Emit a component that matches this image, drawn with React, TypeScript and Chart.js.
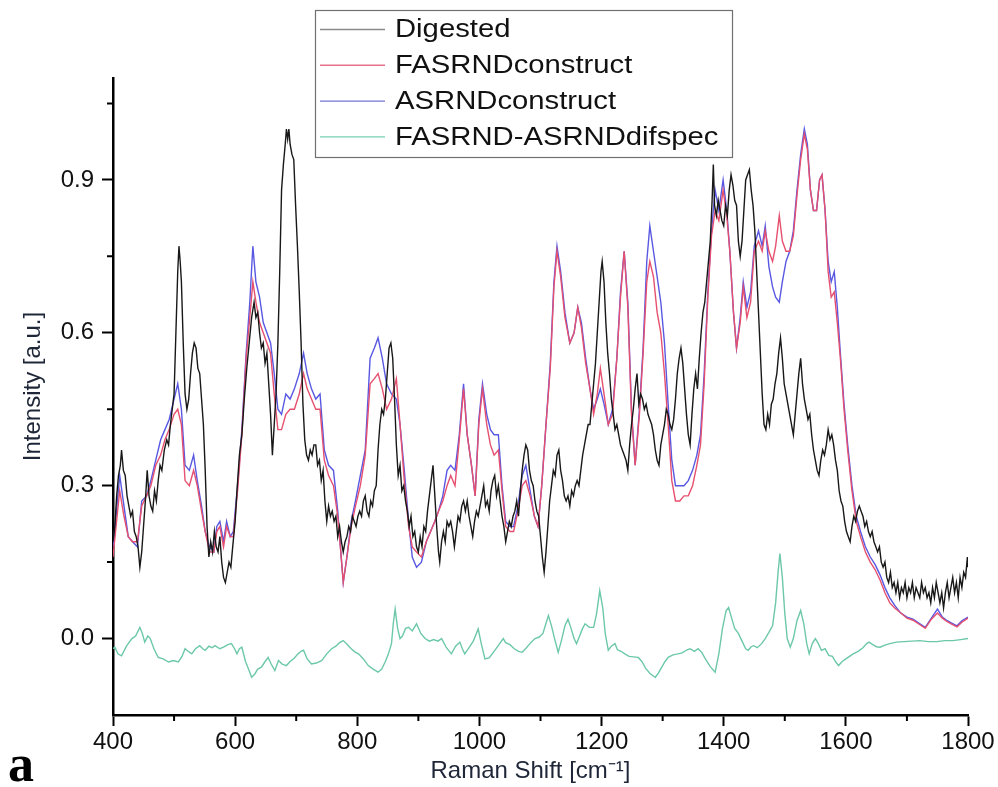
import { useEffect, useRef } from "react";
import { Chart, registerables } from "chart.js";

Chart.register(...registerables);

// ---------- data ----------
const seriesLabels = ["Digested", "FASRNDconstruct", "ASRNDconstruct", "FASRND-ASRNDdifspec"];

const xMajorTicks = [400, 600, 800, 1000, 1200, 1400, 1600, 1800];
const xMinorTicks = [500, 700, 900, 1100, 1300, 1500, 1700];
const yMajorTicks = [0, 0.3, 0.6, 0.9];
const yMinorTicks = [0.15, 0.45, 0.75, 1.05];

const digestedX = [
  400, 403, 406, 409, 412, 414, 417, 420, 423, 426, 429, 432, 435, 438, 441, 444, 447, 450, 453, 456,
  459, 462, 465, 468, 471, 474, 477, 480, 484, 488, 491, 494, 497, 500, 503, 506, 508, 510, 512, 515,
  518, 521, 524, 527, 530, 533, 536, 539, 542, 545, 548, 551, 554, 557, 560, 563, 566, 569, 572, 575,
  578, 581, 584, 587, 590, 593, 596, 600, 603, 607, 611, 615, 619, 623, 627, 631, 634, 637, 640, 643,
  646, 649, 652, 655, 658, 661, 664, 667, 670, 673, 676, 679, 682, 684, 686, 688, 690, 693, 696, 699,
  702, 705, 708, 711, 714, 717, 720, 723, 726, 729, 732, 735, 738, 741, 744, 747, 750, 753, 756, 759,
  762, 765, 768, 771, 774, 777, 780, 783, 786, 789, 792, 795, 798, 801, 804, 807, 810, 813, 816, 819,
  822, 825, 828, 831, 834, 837, 840, 843, 846, 849, 852, 855, 858, 861, 864, 867, 870, 873, 876, 879,
  882, 885, 888, 891, 894, 897, 900, 903, 906, 909, 912, 915, 918, 921, 924, 927, 930, 933, 935, 938,
  941, 944, 947, 950, 953, 956, 959, 962, 965, 968, 971, 974, 977, 980, 983, 986, 989, 992, 995, 998,
  1001, 1004, 1007, 1010, 1013, 1016, 1019, 1022, 1025, 1028, 1031, 1034, 1037, 1040, 1043, 1046, 1049, 1052, 1055, 1058,
  1061, 1064, 1067, 1070, 1073, 1076, 1079, 1082, 1085, 1088, 1091, 1094, 1097, 1100, 1103, 1106, 1109, 1112, 1115, 1118,
  1121, 1124, 1127, 1130, 1133, 1136, 1139, 1142, 1145, 1148, 1151, 1154, 1157, 1160, 1163, 1166, 1169, 1172, 1175, 1178,
  1181, 1184, 1187, 1190, 1193, 1196, 1199, 1201, 1204, 1207, 1210, 1213, 1216, 1219, 1222, 1225, 1228, 1231, 1234, 1237,
  1240, 1243, 1246, 1249, 1252, 1255, 1258, 1261, 1264, 1267, 1270, 1273, 1276, 1279, 1282, 1285, 1288, 1291, 1294, 1297,
  1300, 1303, 1306, 1309, 1312, 1315, 1318, 1321, 1324, 1327, 1330, 1333, 1336, 1339, 1342, 1345, 1348, 1351, 1354, 1357,
  1360, 1363, 1366, 1369, 1372, 1375, 1378, 1381, 1383, 1385, 1388, 1391, 1394, 1397, 1400, 1403, 1406, 1409, 1412, 1415,
  1418, 1421, 1424, 1427, 1430, 1433, 1436, 1439, 1442, 1445, 1448, 1451, 1454, 1457, 1460, 1463, 1466, 1469, 1472, 1475,
  1478, 1481, 1484, 1487, 1490, 1493, 1496, 1499, 1502, 1505, 1508, 1511, 1514, 1517, 1520, 1523, 1526, 1529, 1532, 1535,
  1538, 1541, 1544, 1547, 1550, 1553, 1556, 1559, 1562, 1565, 1568, 1571, 1574, 1577, 1580, 1583, 1586, 1589, 1592, 1595,
  1598, 1601, 1604, 1607, 1610, 1613, 1616, 1619, 1622, 1625, 1628, 1631, 1634, 1637, 1640, 1643, 1646, 1649, 1652, 1655,
  1658, 1661, 1664, 1667, 1670, 1673, 1676, 1679, 1682, 1685, 1688, 1691, 1694, 1697, 1700, 1703, 1706, 1709, 1712, 1715,
  1718, 1721, 1724, 1727, 1730, 1733, 1736, 1739, 1742, 1745, 1748, 1751, 1754, 1757, 1760, 1763, 1766, 1769, 1772, 1775,
  1778, 1781, 1784, 1787, 1790, 1793, 1796, 1799, 1800,
];
const digestedY = [
  0.19, 0.22, 0.28, 0.32, 0.34, 0.37, 0.33, 0.32, 0.28, 0.26, 0.24, 0.25, 0.21, 0.2, 0.18, 0.14, 0.17, 0.22, 0.27, 0.33,
  0.28, 0.26, 0.25, 0.29, 0.27, 0.31, 0.34, 0.33, 0.37, 0.39, 0.38, 0.42, 0.45, 0.48, 0.6, 0.72, 0.77, 0.74, 0.7, 0.58,
  0.48, 0.45, 0.47, 0.52, 0.56, 0.58, 0.57, 0.53, 0.52, 0.47, 0.42, 0.33, 0.22, 0.16, 0.19, 0.17, 0.21, 0.18, 0.17, 0.2,
  0.15, 0.12, 0.11, 0.13, 0.15, 0.14, 0.18, 0.23, 0.29, 0.36, 0.4, 0.47, 0.53, 0.58, 0.63, 0.66, 0.63, 0.64, 0.6, 0.57,
  0.58, 0.54, 0.56, 0.5, 0.44, 0.36, 0.42, 0.48, 0.58, 0.72, 0.88, 0.93, 0.97, 1.0, 0.98, 1.0, 0.97, 0.95, 0.94, 0.85,
  0.77, 0.68, 0.58, 0.46, 0.39, 0.36, 0.35, 0.37, 0.36, 0.38, 0.38, 0.34, 0.35, 0.31, 0.33, 0.27, 0.23, 0.26, 0.24, 0.25,
  0.23, 0.24, 0.2, 0.22, 0.19, 0.17, 0.19, 0.2, 0.22, 0.21, 0.24, 0.23, 0.22, 0.24, 0.25, 0.24, 0.27, 0.28, 0.25, 0.24,
  0.27, 0.26, 0.29, 0.3, 0.37, 0.42, 0.45, 0.44, 0.47, 0.52, 0.57, 0.58, 0.55, 0.47, 0.38, 0.32, 0.34, 0.29, 0.3, 0.27,
  0.25, 0.22, 0.24, 0.2, 0.21, 0.18, 0.17, 0.2, 0.18, 0.22, 0.21, 0.25, 0.28, 0.31, 0.34, 0.28, 0.22, 0.17, 0.15, 0.19,
  0.21, 0.19, 0.23, 0.22, 0.23, 0.21, 0.18, 0.21, 0.24, 0.23, 0.26, 0.27, 0.25, 0.27, 0.24, 0.22, 0.2, 0.23, 0.25, 0.24,
  0.26, 0.28, 0.3, 0.26, 0.27, 0.25, 0.29, 0.31, 0.32, 0.28, 0.3, 0.27, 0.24, 0.22, 0.19, 0.21, 0.23, 0.22, 0.24, 0.25,
  0.27, 0.24, 0.29, 0.33, 0.36, 0.38, 0.37, 0.33, 0.31, 0.3, 0.27, 0.25, 0.24, 0.2, 0.16, 0.13, 0.17, 0.22, 0.27, 0.3,
  0.33, 0.32, 0.36, 0.37, 0.33, 0.31, 0.28, 0.27, 0.28, 0.26, 0.29, 0.28, 0.3, 0.31, 0.3, 0.33, 0.36, 0.38, 0.4, 0.42,
  0.42, 0.46, 0.5, 0.54, 0.6, 0.66, 0.72, 0.74, 0.7, 0.62, 0.56, 0.52, 0.47, 0.44, 0.41, 0.42, 0.4, 0.38, 0.37, 0.36,
  0.35, 0.33, 0.38, 0.42, 0.45, 0.49, 0.52, 0.46, 0.48, 0.47, 0.45, 0.46, 0.44, 0.43, 0.42, 0.4, 0.37, 0.35, 0.34, 0.38,
  0.4, 0.42, 0.45, 0.44, 0.42, 0.41, 0.43, 0.47, 0.52, 0.55, 0.57, 0.54, 0.49, 0.44, 0.4, 0.38, 0.44, 0.49, 0.52, 0.49,
  0.55, 0.6, 0.64, 0.66, 0.7, 0.74, 0.78, 0.86, 0.93, 0.85, 0.83, 0.86, 0.84, 0.82, 0.81, 0.85, 0.83, 0.88, 0.91, 0.89,
  0.86, 0.85, 0.78, 0.75, 0.78, 0.84, 0.9, 0.91, 0.92, 0.88, 0.85, 0.8, 0.72, 0.64, 0.56, 0.48, 0.42, 0.41, 0.44, 0.42,
  0.46, 0.47, 0.5, 0.52, 0.56, 0.59, 0.55, 0.5, 0.48, 0.46, 0.44, 0.42, 0.4, 0.44, 0.48, 0.52, 0.55, 0.5, 0.47, 0.45,
  0.43, 0.44, 0.4, 0.37, 0.35, 0.33, 0.32, 0.35, 0.37, 0.36, 0.38, 0.41, 0.39, 0.4, 0.38, 0.35, 0.33, 0.29, 0.27, 0.26,
  0.23, 0.21, 0.2, 0.19, 0.22, 0.24, 0.23, 0.25, 0.26, 0.25, 0.24, 0.22, 0.23, 0.21, 0.2, 0.21, 0.19, 0.18, 0.17, 0.18,
  0.15, 0.14, 0.15, 0.12, 0.11, 0.13, 0.1, 0.11, 0.09, 0.11, 0.08, 0.1, 0.09, 0.11, 0.08, 0.1, 0.09, 0.11, 0.08, 0.1,
  0.09, 0.08, 0.11, 0.09, 0.1, 0.08, 0.09, 0.07, 0.1, 0.08, 0.11, 0.09, 0.07, 0.09, 0.06, 0.09, 0.11, 0.08, 0.1, 0.12,
  0.09, 0.11, 0.08, 0.12, 0.1, 0.13, 0.12, 0.16, 0.14,
];

const constructX = [
  400, 405, 411, 418, 425, 432, 440, 447, 455, 462, 470, 478, 485, 492, 500, 506, 512, 518, 525, 532,
  538, 545, 551, 558, 565, 570, 575, 581, 586, 592, 597, 604, 611, 618, 624, 629, 634, 640, 646, 652,
  658, 664, 670, 676, 683, 690, 697, 705, 712, 718, 725, 732, 739, 746, 753, 761, 768, 773, 777, 783,
  790, 797, 805, 813, 821, 828, 834, 841, 848, 856, 864, 870, 877, 884, 890, 897, 905, 913, 920, 927,
  933, 940, 947, 953, 960, 967, 974, 980, 987, 993, 999, 1005, 1012, 1018, 1024, 1031, 1037, 1043, 1050, 1056,
  1063, 1070, 1076, 1083, 1090, 1096, 1102, 1109, 1116, 1122, 1127, 1133, 1140, 1148, 1155, 1161, 1167, 1174, 1181, 1187,
  1193, 1198, 1204, 1211, 1218, 1225, 1231, 1237, 1243, 1249, 1255, 1262, 1268, 1274, 1279, 1285, 1291, 1297, 1303, 1309,
  1315, 1321, 1328, 1335, 1342, 1349, 1356, 1362, 1368, 1374, 1380, 1386, 1392, 1399, 1405, 1410, 1416, 1421, 1427, 1432,
  1438, 1444, 1450, 1457, 1463, 1468, 1474, 1480, 1485, 1491, 1496, 1502, 1508, 1514, 1520, 1526, 1532, 1537, 1542, 1547,
  1552, 1557, 1561, 1566, 1571, 1576, 1581, 1586, 1591, 1597, 1603, 1610, 1617, 1624, 1632, 1640, 1648, 1656, 1664, 1672,
  1680, 1690, 1700, 1710, 1720, 1730, 1740, 1750, 1758, 1766, 1774, 1782, 1790, 1800,
];
const asrndY = [
  0.18, 0.24, 0.32, 0.26, 0.2, 0.19, 0.18, 0.27, 0.28, 0.31, 0.35, 0.39, 0.41, 0.43, 0.47, 0.5, 0.45, 0.34, 0.33, 0.36,
  0.31, 0.26, 0.21, 0.18, 0.17, 0.22, 0.23, 0.19, 0.23, 0.2, 0.21, 0.3, 0.41, 0.56, 0.66, 0.77, 0.7, 0.67, 0.62, 0.6,
  0.58, 0.52, 0.45, 0.44, 0.48, 0.47, 0.49, 0.52, 0.56, 0.52, 0.49, 0.47, 0.48, 0.37, 0.34, 0.33, 0.25, 0.17, 0.11, 0.16,
  0.23, 0.27, 0.32, 0.37, 0.55, 0.57, 0.59, 0.55, 0.5, 0.48, 0.47, 0.42, 0.33, 0.23, 0.16, 0.14, 0.15, 0.19, 0.21, 0.23,
  0.25, 0.28, 0.33, 0.34, 0.33, 0.4, 0.5, 0.4, 0.34, 0.28, 0.43, 0.5, 0.44, 0.41, 0.4, 0.4, 0.3, 0.23, 0.22, 0.22,
  0.26, 0.32, 0.34, 0.29, 0.24, 0.22, 0.3, 0.42, 0.54, 0.7, 0.77, 0.72, 0.64, 0.58, 0.6, 0.65, 0.62, 0.55, 0.49, 0.45,
  0.47, 0.49, 0.46, 0.42, 0.45, 0.55, 0.68, 0.76, 0.66, 0.45, 0.34, 0.45, 0.57, 0.74, 0.81, 0.76, 0.71, 0.66, 0.58, 0.46,
  0.35, 0.3, 0.3, 0.3, 0.31, 0.33, 0.36, 0.4, 0.52, 0.68, 0.8, 0.88, 0.84, 0.9, 0.84, 0.76, 0.64, 0.57, 0.63, 0.7,
  0.65, 0.68, 0.77, 0.8, 0.77, 0.81, 0.73, 0.69, 0.67, 0.66, 0.7, 0.74, 0.76, 0.8, 0.88, 0.95, 1.0, 0.97, 0.88, 0.84,
  0.84, 0.9, 0.91, 0.84, 0.74, 0.7, 0.72, 0.65, 0.56, 0.46, 0.38, 0.3, 0.24, 0.21, 0.18, 0.16, 0.145, 0.125, 0.1, 0.08,
  0.065, 0.05, 0.042, 0.038, 0.03, 0.022, 0.04, 0.058, 0.042, 0.035, 0.03, 0.025, 0.035, 0.042,
];
const fasrndY = [
  0.16, 0.22, 0.29, 0.24, 0.2, 0.19, 0.19, 0.26, 0.28, 0.3, 0.34, 0.36, 0.39, 0.41, 0.44, 0.45, 0.42, 0.31, 0.3, 0.33,
  0.3, 0.25, 0.21, 0.17, 0.17, 0.21, 0.22, 0.18, 0.22, 0.2, 0.2, 0.29, 0.4, 0.55, 0.63, 0.7, 0.66, 0.62, 0.6, 0.58,
  0.56, 0.48, 0.41, 0.41, 0.44, 0.45, 0.45, 0.48, 0.52, 0.49, 0.47, 0.45, 0.45, 0.35, 0.32, 0.3, 0.24, 0.17, 0.11, 0.16,
  0.22, 0.26, 0.3, 0.36, 0.5, 0.51, 0.52, 0.49, 0.45, 0.47, 0.51, 0.42, 0.31, 0.22, 0.18, 0.17, 0.16, 0.19, 0.21, 0.23,
  0.25, 0.27, 0.3, 0.32, 0.3, 0.39, 0.49, 0.4, 0.34, 0.28, 0.42, 0.49, 0.42, 0.38, 0.36, 0.37, 0.29, 0.22, 0.21, 0.21,
  0.25, 0.3, 0.31, 0.28, 0.24, 0.22, 0.3, 0.42, 0.53, 0.69, 0.76, 0.71, 0.63, 0.58, 0.6, 0.65, 0.61, 0.54, 0.49, 0.44,
  0.48, 0.53, 0.48, 0.42, 0.44, 0.55, 0.67, 0.76, 0.65, 0.44, 0.34, 0.44, 0.56, 0.7, 0.74, 0.71, 0.64, 0.6, 0.52, 0.42,
  0.31, 0.27, 0.27, 0.28, 0.28, 0.3, 0.34, 0.38, 0.5, 0.67, 0.79, 0.84, 0.82, 0.88, 0.83, 0.76, 0.64, 0.57, 0.62, 0.69,
  0.63, 0.66, 0.76, 0.78, 0.76, 0.8, 0.76, 0.74, 0.77, 0.83, 0.78, 0.76, 0.76, 0.79, 0.87, 0.94, 0.99, 0.96, 0.88, 0.84,
  0.84, 0.9, 0.91, 0.84, 0.72, 0.67, 0.68, 0.62, 0.55, 0.45, 0.37, 0.29, 0.23, 0.2, 0.17, 0.15, 0.135, 0.115, 0.09, 0.07,
  0.06, 0.05, 0.04, 0.036, 0.028, 0.02, 0.038, 0.05, 0.04, 0.033, 0.028, 0.023, 0.032, 0.04,
];

const diffX = [
  400, 403, 408, 414, 422, 431, 437, 444, 448, 452, 457, 461, 467, 474, 482, 491, 499, 507, 513, 518,
  523, 529, 535, 542, 547, 551, 557, 562, 567, 575, 581, 588, 594, 599, 603, 607, 611, 617, 622, 627,
  632, 637, 643, 648, 654, 659, 665, 671, 677, 684, 690, 697, 703, 708, 712, 718, 725, 733, 742, 750,
  758, 765, 771, 777, 784, 790, 796, 802, 810, 818, 826, 834, 840, 846, 851, 856, 859, 862, 866, 870,
  874, 879, 884, 890, 897, 904, 911, 918, 925, 932, 938, 946, 954, 961, 968, 972, 976, 983, 990, 998,
  1003, 1009, 1016, 1024, 1032, 1039, 1043, 1050, 1057, 1064, 1070, 1077, 1084, 1091, 1098, 1104, 1109, 1113, 1118, 1123,
  1129, 1134, 1140, 1145, 1150, 1155, 1159, 1164, 1169, 1173, 1180, 1187, 1192, 1197, 1202, 1206, 1211, 1216, 1222, 1226,
  1232, 1238, 1245, 1252, 1260, 1266, 1272, 1279, 1284, 1288, 1293, 1299, 1304, 1309, 1317, 1325, 1332, 1340, 1345, 1352,
  1358, 1364, 1370, 1378, 1386, 1392, 1398, 1404, 1408, 1413, 1418, 1424, 1430, 1436, 1440, 1445, 1449, 1455, 1462, 1468,
  1474, 1480, 1485, 1489, 1492, 1496, 1500, 1504, 1509, 1514, 1520, 1526, 1531, 1536, 1540, 1545, 1550, 1555, 1560, 1566,
  1572, 1578, 1583, 1588, 1594, 1600, 1606, 1612, 1620, 1628, 1634, 1638, 1644, 1650, 1656, 1664, 1672, 1683, 1695, 1708,
  1721, 1735, 1749, 1762, 1775, 1788, 1800,
];
const diffY = [
  -0.02, -0.017, -0.03, -0.034, -0.015, 0.0, 0.005, 0.022, 0.01, -0.007, 0.005, 0.0, -0.02, -0.037, -0.04, -0.046, -0.043, -0.046, -0.035, -0.02,
  -0.025, -0.03, -0.02, -0.014, -0.02, -0.023, -0.015, -0.018, -0.014, -0.02, -0.017, -0.012, -0.01, -0.02, -0.03, -0.02, -0.017, -0.045, -0.06, -0.076,
  -0.07, -0.06, -0.056, -0.047, -0.037, -0.05, -0.063, -0.043, -0.05, -0.053, -0.045, -0.038, -0.03, -0.025, -0.023, -0.04, -0.05, -0.048, -0.043, -0.03,
  -0.02, -0.015, -0.008, -0.004, -0.012, -0.02, -0.026, -0.03, -0.04, -0.053, -0.06, -0.066, -0.06, -0.045, -0.03, -0.01, 0.03, 0.058, 0.02, 0.0,
  0.005, 0.02, 0.022, 0.015, 0.029, 0.01, 0.0, -0.005, -0.002, -0.005, 0.0, -0.018, -0.03, -0.015, -0.007, -0.02, -0.03, -0.018, -0.005, 0.019,
  -0.01, -0.04, -0.038, -0.025, -0.012, 0.0, -0.008, -0.012, -0.02, -0.025, -0.027, -0.018, -0.008, 0.0, 0.003, 0.01, 0.03, 0.045, 0.025, 0.0,
  -0.027, -0.005, 0.025, 0.038, 0.02, 0.0, -0.01, 0.005, 0.02, 0.029, 0.022, 0.022, 0.05, 0.094, 0.06, 0.01, -0.023, -0.015, -0.01, -0.022,
  -0.025, -0.03, -0.035, -0.036, -0.037, -0.045, -0.058, -0.068, -0.073, -0.076, -0.068, -0.055, -0.045, -0.037, -0.032, -0.03, -0.028, -0.022, -0.02, -0.025,
  -0.02, -0.027, -0.04, -0.055, -0.066, -0.03, 0.02, 0.055, 0.061, 0.04, 0.02, 0.01, -0.005, -0.02, -0.023, -0.016, -0.014, -0.018, -0.01, 0.0,
  0.012, 0.025, 0.07, 0.13, 0.167, 0.12, 0.05, 0.0, -0.017, 0.0, 0.035, 0.055, 0.03, -0.01, -0.03, -0.01, 0.0, -0.01, -0.023, -0.02,
  -0.033, -0.035, -0.045, -0.053, -0.045, -0.04, -0.035, -0.03, -0.025, -0.018, -0.01, -0.007, -0.012, -0.016, -0.017, -0.013, -0.01, -0.007, -0.006, -0.005,
  -0.004, -0.006, -0.006, -0.004, -0.004, -0.002, 0.0,
];

// ---------- styles ----------
const lineColors = ["#181818", "#e6506f", "#5858e2", "#6cc8a8"];
const legendSampleColors = ["#8a8a8a", "#e8708a", "#7676d6", "#74d0b0"];
const FONT = '"Liberation Sans", Arial, sans-serif';

const toPoints = (xs: number[], ys: number[]) => xs.map((x, i) => ({ x, y: ys[i] }));

const boxLegend = {
  id: "boxLegend",
  afterDraw(chart: any) {
    const ctx = chart.ctx as CanvasRenderingContext2D;
    ctx.save();
    const x0 = 315, y0 = 10, w = 417, h = 147;
    ctx.fillStyle = "#ffffff";
    ctx.fillRect(x0, y0, w, h);
    ctx.strokeStyle = "#707070";
    ctx.lineWidth = 1.2;
    ctx.strokeRect(x0 + 0.5, y0 + 0.5, w, h);
    chart.data.datasets.forEach((ds: any, i: number) => {
      const cy = y0 + 19.5 + i * 35.8;
      ctx.strokeStyle = legendSampleColors[i];
      ctx.lineWidth = 1.4;
      ctx.beginPath();
      ctx.moveTo(320, cy);
      ctx.lineTo(385, cy);
      ctx.stroke();
      ctx.save();
      ctx.translate(395, cy);
      ctx.scale(1.17, 1);
      ctx.fillStyle = "#111111";
      ctx.font = `25px ${FONT}`;
      ctx.textBaseline = "middle";
      ctx.textAlign = "left";
      ctx.fillText(ds.label, 0, 1);
      ctx.restore();
    });
    ctx.restore();
  },
};

const minorTicks = {
  id: "minorTicks",
  afterDraw(chart: any) {
    const ctx = chart.ctx as CanvasRenderingContext2D;
    const { left, bottom } = chart.chartArea;
    const xs = chart.scales.x;
    const ys = chart.scales.y;
    ctx.save();
    ctx.strokeStyle = "#000";
    ctx.lineWidth = 2;
    ctx.beginPath();
    xMinorTicks.forEach((v) => {
      const px = xs.getPixelForValue(v);
      ctx.moveTo(px, bottom);
      ctx.lineTo(px, bottom + 6);
    });
    yMinorTicks.forEach((v) => {
      const py = ys.getPixelForValue(v);
      ctx.moveTo(left - 6, py);
      ctx.lineTo(left, py);
    });
    ctx.stroke();
    // panel letter
    ctx.fillStyle = "#000";
    ctx.font = 'bold 52px "Liberation Serif", "Times New Roman", serif';
    ctx.textBaseline = "alphabetic";
    ctx.textAlign = "left";
    ctx.fillText("a", 8, 781);
    ctx.restore();
  },
};

export default function App() {
  const ref = useRef<HTMLCanvasElement | null>(null);

  useEffect(() => {
    if (!ref.current) return;
    const chart = new Chart(ref.current, {
      type: "line",
      data: {
        datasets: [
          { label: seriesLabels[0], data: toPoints(digestedX, digestedY), borderColor: lineColors[0], borderWidth: 1.4 },
          { label: seriesLabels[1], data: toPoints(constructX, fasrndY), borderColor: lineColors[1], borderWidth: 1.4 },
          { label: seriesLabels[2], data: toPoints(constructX, asrndY), borderColor: lineColors[2], borderWidth: 1.4 },
          { label: seriesLabels[3], data: toPoints(diffX, diffY), borderColor: lineColors[3], borderWidth: 1.4 },
        ],
      },
      options: {
        responsive: false,
        animation: false,
        devicePixelRatio: 1,
        elements: { point: { radius: 0 }, line: { tension: 0, fill: false } },
        layout: { padding: { left: 0, right: 30, top: 78, bottom: 0 } },
        plugins: { legend: { display: false }, tooltip: { enabled: false } },
        scales: {
          x: {
            type: "linear",
            min: 400,
            max: 1800,
            afterBuildTicks: (s: any) => {
              s.ticks = xMajorTicks.map((v) => ({ value: v }));
            },
            afterFit: (s: any) => {
              s.height = 72;
            },
            ticks: {
              autoSkip: false,
              maxRotation: 0,
              padding: 2,
              color: "#111",
              font: { family: FONT, size: 24 },
              callback: (v: any) => String(v),
            },
            grid: { display: true, drawOnChartArea: false, drawTicks: true, tickLength: 11, tickWidth: 2, tickColor: "#000" },
            border: { display: true, color: "#000", width: 2.5 },
            title: {
              display: true,
              text: "Raman Shift [cm⁻¹]   ",
              color: "#1e2638",
              font: { family: FONT, size: 24 },
              padding: { top: 0, bottom: 1 },
            },
          },
          y: {
            type: "linear",
            min: -0.15,
            max: 1.1,
            afterBuildTicks: (s: any) => {
              s.ticks = yMajorTicks.map((v) => ({ value: v }));
            },
            afterFit: (s: any) => {
              s.width = 113;
            },
            ticks: {
              autoSkip: false,
              padding: 8,
              color: "#111",
              font: { family: FONT, size: 24 },
              callback: (v: any) => Number(v).toFixed(1),
            },
            grid: { display: true, drawOnChartArea: false, drawTicks: true, tickLength: 11, tickWidth: 2, tickColor: "#000" },
            border: { display: true, color: "#000", width: 2.5 },
            title: {
              display: true,
              text: "   Intensity [a.u.]",
              color: "#1e2638",
              font: { family: FONT, size: 24 },
              padding: { top: 19, bottom: 0 },
            },
          },
        },
      },
      plugins: [minorTicks, boxLegend],
    });
    return () => chart.destroy();
  }, []);

  return (
    <div style={{ position: "absolute", left: 0, top: 0, width: 998, height: 787, background: "#fff" }}>
      <canvas ref={ref} width={998} height={787} style={{ display: "block" }} />
    </div>
  );
}
